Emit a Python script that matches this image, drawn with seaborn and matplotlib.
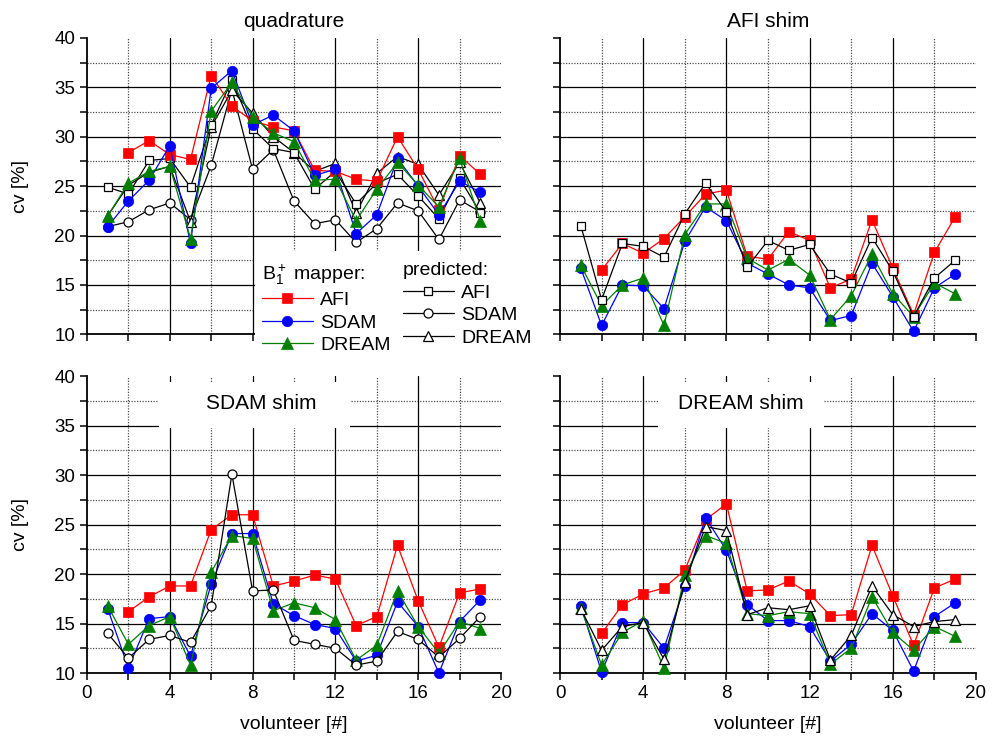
import numpy as np
import pandas as pd
import matplotlib
matplotlib.use("Agg")
import matplotlib.pyplot as plt
import seaborn as sns
from matplotlib.patches import Rectangle
from matplotlib.lines import Line2D

# ---------------- data ----------------
volunteers = list(range(1, 20))
nan = np.nan

# quadrature
q_afi = [nan, 28.4, 29.6, 28.2, 27.7, 36.2, 33.1, 31.6, 31.0, 30.6, 26.6, 26.5, 25.7, 25.5, 30.0, 26.7, 22.6, 28.1, 26.2]
q_sdam = [20.9, 23.5, 25.6, 29.1, 19.2, 34.9, 36.7, 31.2, 32.2, 30.6, 26.1, 26.7, 20.2, 22.1, 27.8, 25.0, 22.1, 25.5, 24.4]
q_dream = [22.0, 25.3, 26.5, 27.0, 19.7, 32.6, 35.5, 32.0, 30.4, 29.5, 25.6, 25.7, 21.5, 24.7, 27.4, 25.1, 22.9, 27.8, 21.5]
q_pred_afi = [24.9, 24.2, 27.6, 27.8, 24.9, 31.2, 35.7, 30.8, 28.8, 28.4, 24.7, 26.5, 23.2, 25.3, 26.2, 24.0, 21.7, 25.8, 22.3]
q_pred_sdam = [20.9, 21.4, 22.6, 23.3, 21.6, 27.1, 34.8, 26.7, 28.7, 23.5, 21.2, 21.6, 19.3, 20.7, 23.3, 22.5, 19.6, 23.6, 22.4]
q_pred_dream = [22.0, 25.1, 26.4, 27.0, 21.4, 31.0, 34.7, 32.4, 30.0, 28.4, 26.5, 27.3, 22.3, 26.3, 28.0, 27.2, 24.1, 27.4, 23.3]

# AFI shim
a_afi = [nan, 16.5, 19.2, 18.2, 19.7, 21.9, 24.2, 24.6, 17.9, 17.6, 20.4, 19.5, 14.7, 15.6, 21.6, 16.7, 12.0, 18.3, 21.9]
a_sdam = [16.7, 10.9, 15.0, 14.9, 12.6, 19.4, 22.9, 21.5, 17.2, 16.1, 15.0, 14.7, 11.4, 11.9, 17.2, 13.8, 10.3, 14.7, 16.1]
a_dream = [17.0, 12.9, 15.0, 15.7, 10.9, 20.1, 23.2, 23.2, 17.7, 16.5, 17.6, 16.0, 11.5, 13.9, 18.1, 14.1, 11.8, 15.2, 14.1]
a_pred_afi = [21.0, 13.5, 19.2, 18.9, 17.8, 22.2, 25.3, 22.4, 16.8, 19.5, 18.5, 19.1, 16.1, 15.2, 19.8, 16.4, 11.8, 15.7, 17.5]

# SDAM shim
s_afi = [nan, 16.2, 17.7, 18.8, 18.8, 24.5, 26.0, 26.0, 18.8, 19.3, 19.9, 19.5, 14.8, 15.7, 22.9, 17.3, 12.6, 18.1, 18.5]
s_sdam = [16.5, 10.5, 15.5, 15.7, 11.7, 19.0, 24.1, 24.1, 17.0, 15.8, 14.9, 14.5, 11.2, 11.8, 17.2, 14.7, 10.0, 15.2, 17.4]
s_dream = [16.8, 12.9, 14.8, 15.7, 10.8, 20.2, 23.9, 23.6, 16.3, 17.1, 16.6, 15.4, 11.3, 12.8, 18.3, 14.7, 12.0, 15.2, 14.5]
s_pred_sdam = [14.0, 11.5, 13.4, 13.8, 13.1, 16.8, 30.1, 18.3, 18.4, 13.3, 12.9, 12.5, 10.8, 11.2, 14.2, 13.4, 11.6, 13.5, 15.7]

# DREAM shim
d_afi = [nan, 14.0, 16.9, 18.0, 18.6, 20.4, 25.5, 27.1, 18.3, 18.4, 19.3, 18.0, 15.8, 15.9, 22.9, 17.8, 12.8, 18.6, 19.5]
d_sdam = [16.8, 10.1, 15.1, 15.1, 12.5, 18.8, 25.7, 22.4, 16.9, 15.3, 15.3, 14.7, 11.2, 12.9, 16.0, 14.3, 10.2, 15.7, 17.1]
d_dream = [16.6, 10.8, 14.1, 15.3, 10.5, 19.9, 23.9, 23.1, 16.0, 15.8, 16.2, 16.0, 10.9, 12.5, 17.7, 14.1, 12.3, 14.7, 13.7]
d_pred_dream = [16.5, 12.3, 14.7, 15.1, 11.4, 19.2, 24.8, 24.4, 15.9, 16.6, 16.4, 16.8, 11.3, 13.8, 18.8, 15.9, 14.7, 15.2, 15.4]

panel_titles = ["quadrature", "AFI shim", "SDAM shim", "DREAM shim"]
mapper_labels = ["AFI", "SDAM", "DREAM"]
x_ticks = [0, 4, 8, 12, 16, 20]
y_ticks = [10, 15, 20, 25, 30, 35, 40]

# ---------------- styles ----------------
RED, BLUE, GREEN = "#ff0000", "#0000ff", "#007f00"
STY = {
    "AFI": dict(color=RED, marker="s", markersize=6.5, markerfacecolor=RED, markeredgecolor=RED, markeredgewidth=0.5),
    "SDAM": dict(color=BLUE, marker="o", markersize=7.5, markerfacecolor=BLUE, markeredgecolor=BLUE, markeredgewidth=0.5),
    "DREAM": dict(color=GREEN, marker="^", markersize=8, markerfacecolor=GREEN, markeredgecolor=GREEN, markeredgewidth=0.5),
    "pAFI": dict(color="black", marker="s", markersize=6, markerfacecolor="white", markeredgecolor="black", markeredgewidth=0.9),
    "pSDAM": dict(color="black", marker="o", markersize=6.5, markerfacecolor="white", markeredgecolor="black", markeredgewidth=0.9),
    "pDREAM": dict(color="black", marker="^", markersize=7, markerfacecolor="white", markeredgecolor="black", markeredgewidth=0.9),
}

sns.set_theme(style="white")
plt.rcParams["font.family"] = ["Liberation Sans", "DejaVu Sans"]
plt.rcParams["mathtext.fontset"] = "custom"
plt.rcParams["mathtext.rm"] = "Liberation Sans"
plt.rcParams["mathtext.it"] = "Liberation Sans:italic"
plt.rcParams["mathtext.bf"] = "Liberation Sans:bold"
for k in ["text.color", "axes.labelcolor", "xtick.color", "ytick.color",
          "xtick.labelcolor", "ytick.labelcolor", "axes.edgecolor"]:
    plt.rcParams[k] = "black"

fig = plt.figure(figsize=(10, 7.39), dpi=100)
fig.patch.set_facecolor("white")

positions = [
    [0.087, 0.5476, 0.414, 0.401],
    [0.560, 0.5476, 0.416, 0.401],
    [0.087, 0.0893, 0.414, 0.4015],
    [0.560, 0.0893, 0.416, 0.4015],
]

panels = [
    [("pSDAM", q_pred_sdam, 2), ("pDREAM", q_pred_dream, 2), ("pAFI", q_pred_afi, 2),
     ("AFI", q_afi, 3), ("SDAM", q_sdam, 3), ("DREAM", q_dream, 3)],
    [("AFI", a_afi, 3), ("SDAM", a_sdam, 3), ("DREAM", a_dream, 3), ("pAFI", a_pred_afi, 4)],
    [("AFI", s_afi, 3), ("SDAM", s_sdam, 3), ("DREAM", s_dream, 3), ("pSDAM", s_pred_sdam, 4)],
    [("AFI", d_afi, 3), ("SDAM", d_sdam, 3), ("DREAM", d_dream, 3), ("pDREAM", d_pred_dream, 4)],
]

axes = []
for i, (pos, series) in enumerate(zip(positions, panels)):
    ax = fig.add_axes(pos)
    axes.append(ax)
    ax.set_facecolor("white")
    # grid
    for y in [15, 20, 25, 30, 35]:
        ax.axhline(y, color="black", lw=0.9, zorder=0.5)
    for y in [12.5, 17.5, 22.5, 27.5, 32.5, 37.5]:
        ax.axhline(y, color="0.3", lw=0.9, ls=(0, (1, 1.2)), zorder=0.5)
    for x in [4, 8, 12, 16]:
        ax.axvline(x, color="black", lw=0.9, zorder=0.5)
    for x in [2, 6, 10, 14, 18]:
        ax.axvline(x, color="0.3", lw=0.9, ls=(0, (1, 1.2)), zorder=0.5)

    for key, vals, z in series:
        df = pd.DataFrame({"volunteer": volunteers, "cv": vals}).dropna()
        sns.lineplot(data=df, x="volunteer", y="cv", ax=ax, errorbar=None, legend=False,
                     linewidth=0.9, zorder=z, clip_on=False, **STY[key])

    ax.set_xlim(0, 20)
    ax.set_ylim(10, 40)
    ax.set_xticks(x_ticks)
    ax.set_xticks([2, 6, 10, 14, 18], minor=True)
    ax.set_yticks(y_ticks)
    ax.set_yticks([12.5, 17.5, 22.5, 27.5, 32.5, 37.5], minor=True)
    ax.tick_params(which="both", direction="out", length=5, width=1.1, color="black",
                   labelcolor="black", labelsize=13.5, bottom=True, left=True, top=False, right=False)
    for s in ["top", "right"]:
        ax.spines[s].set_visible(False)
    for s in ["left", "bottom"]:
        ax.spines[s].set_color("black")
        ax.spines[s].set_linewidth(1.3)
    ax.set_xlabel("")
    ax.set_ylabel("")
    if i < 2:
        ax.tick_params(labelbottom=False)
        ax.set_title(panel_titles[i], fontsize=15, pad=8, color="black")
    else:
        ax.set_xlabel("volunteer [#]", fontsize=14, color="black")
        ax.xaxis.set_label_coords(0.5, -0.145)
    if i % 2 == 1:
        ax.tick_params(labelleft=False)
    else:
        ax.set_ylabel("cv [%]", fontsize=14, color="black")
        ax.yaxis.set_label_coords(-0.14, 0.5)

# inner titles with white boxes
for ax, title, (bx0, bx1), tx in [(axes[2], panel_titles[2], (3.5, 12.7), 8.4),
                                  (axes[3], panel_titles[3], (4.7, 12.7), 8.7)]:
    ax.add_patch(Rectangle((bx0, 34.8), bx1 - bx0, 4.6, facecolor="white", edgecolor="none", zorder=1))
    ax.text(tx, 37.2, title, fontsize=15, ha="center", va="center", zorder=5, color="black")

# legend area
fig.add_artist(Rectangle((0.255, 0.519), 0.285, 0.142, transform=fig.transFigure,
                         facecolor="white", edgecolor="none", zorder=1))

def handle(key):
    st = dict(STY[key])
    return Line2D([], [], linewidth=0.9, **st)

leg1 = fig.legend(handles=[handle("AFI"), handle("SDAM"), handle("DREAM")], labels=mapper_labels,
                  title=r"B$_1^+$ mapper:", loc="upper left", bbox_to_anchor=(0.262, 0.645),
                  frameon=False, fontsize=14, title_fontsize=14, handlelength=2.6, handletextpad=0.4,
                  labelspacing=0.25, borderpad=0, borderaxespad=0, alignment="left", labelcolor="black")
leg1.set_zorder(2)
leg1.get_title().set_color("black")
leg2 = fig.legend(handles=[handle("pAFI"), handle("pSDAM"), handle("pDREAM")], labels=mapper_labels,
                  title="predicted:", loc="upper left", bbox_to_anchor=(0.403, 0.645),
                  frameon=False, fontsize=14, title_fontsize=14, handlelength=2.6, handletextpad=0.4,
                  labelspacing=0.25, borderpad=0, borderaxespad=0, alignment="left", labelcolor="black")
leg2.set_zorder(2)
leg2.get_title().set_color("black")

fig.savefig("out.png", dpi=100, facecolor="white")
